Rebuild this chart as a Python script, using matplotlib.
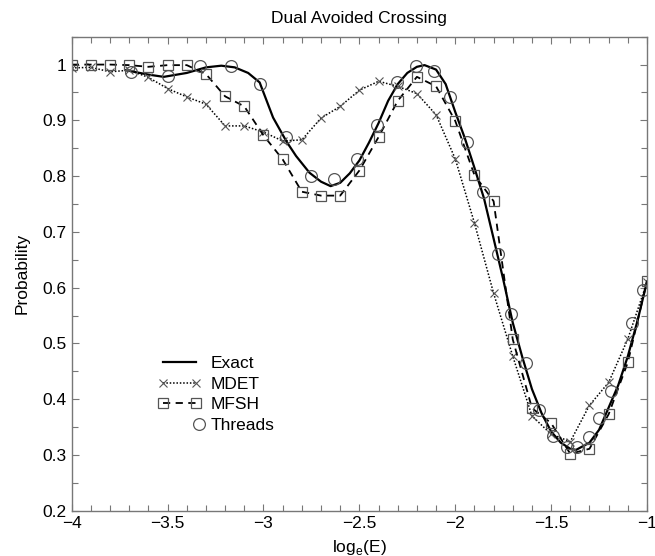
#!/usr/bin/env python3

import numpy as np
import matplotlib
matplotlib.use('Agg')
import matplotlib.pyplot as plt
from matplotlib.legend_handler import HandlerLine2D
from matplotlib.ticker import MultipleLocator

plt.rcParams['font.family'] = ['Liberation Sans', 'DejaVu Sans']
plt.rcParams['mathtext.fontset'] = 'custom'
plt.rcParams['mathtext.rm'] = 'Liberation Sans'

# energy grid used by the MDET and MFSH runs
grid_x = [-4.0, -3.9, -3.8, -3.7, -3.6, -3.5, -3.4, -3.3, -3.2, -3.1,
          -3.0, -2.9, -2.8, -2.7, -2.6, -2.5, -2.4, -2.3, -2.2, -2.1,
          -2.0, -1.9, -1.8, -1.7, -1.6, -1.5, -1.4, -1.3, -1.2, -1.1, -1.0]

mdet_y = [0.994, 0.995, 0.987, 0.990, 0.977, 0.957, 0.942, 0.929, 0.890, 0.890,
          0.879, 0.863, 0.865, 0.904, 0.925, 0.954, 0.970, 0.961, 0.948, 0.910,
          0.831, 0.716, 0.590, 0.477, 0.370, 0.337, 0.324, 0.389, 0.430, 0.508, 0.610]

mfsh_y = [1.000, 1.000, 1.000, 0.999, 0.996, 0.999, 0.999, 0.983, 0.943, 0.925,
          0.873, 0.830, 0.772, 0.765, 0.765, 0.810, 0.870, 0.935, 0.978, 0.961,
          0.899, 0.802, 0.755, 0.507, 0.384, 0.357, 0.302, 0.311, 0.373, 0.466, 0.612]

# exact result
exact_x = [-3.72, -3.60, -3.52, -3.40, -3.30, -3.22, -3.15, -3.08, -3.02, -2.95,
           -2.88, -2.83, -2.76, -2.70, -2.65, -2.60, -2.55, -2.50, -2.45, -2.40,
           -2.35, -2.30, -2.25, -2.20, -2.16, -2.10, -2.05, -2.00, -1.95, -1.90,
           -1.85, -1.80, -1.75, -1.70, -1.65, -1.60, -1.55, -1.50, -1.45, -1.40,
           -1.37, -1.30, -1.25, -1.20, -1.15, -1.10, -1.05, -1.00]
exact_y = [0.990, 0.982, 0.978, 0.985, 0.995, 0.998, 0.995, 0.985, 0.968, 0.905,
           0.862, 0.836, 0.806, 0.790, 0.782, 0.788, 0.805, 0.828, 0.860, 0.895,
           0.935, 0.965, 0.985, 0.996, 0.999, 0.991, 0.965, 0.915, 0.868, 0.815,
           0.760, 0.688, 0.615, 0.537, 0.475, 0.418, 0.375, 0.342, 0.322, 0.311,
           0.309, 0.322, 0.345, 0.385, 0.425, 0.477, 0.540, 0.611]

threads_x = [-3.69, -3.50, -3.33, -3.17, -3.02, -2.88, -2.75, -2.63, -2.514, -2.41,
             -2.305, -2.205, -2.111, -2.028, -1.94, -1.857, -1.776, -1.711, -1.631,
             -1.565, -1.492, -1.419, -1.367, -1.304, -1.25, -1.19, -1.079, -1.023]
threads_y = [0.986, 0.980, 0.997, 0.997, 0.966, 0.871, 0.801, 0.795, 0.831, 0.891,
             0.968, 0.997, 0.988, 0.941, 0.862, 0.771, 0.661, 0.552, 0.465,
             0.381, 0.334, 0.315, 0.315, 0.333, 0.367, 0.414, 0.537, 0.596]


class RightMarkerHandler(HandlerLine2D):
    # single marker at the right end of the legend sample, gnuplot style
    def get_xdata(self, legend, xdescent, ydescent, width, height, fontsize):
        x_end = [-xdescent + width - 0.15 * fontsize]
        return x_end, x_end


def plot_dual_crossing():
    fig = plt.figure(figsize=(6.55, 5.56), dpi=100)
    ax = fig.add_axes([0.1095, 0.0815, 0.8783, 0.8525])

    grey = '#555555'
    ax.plot(exact_x, exact_y, color='black', linewidth=1.6, label='Exact')
    ax.plot(grid_x, mdet_y, color='black', linestyle=(0, (1, 1.2)), linewidth=1.1,
            marker='x', markersize=6, markeredgecolor=grey, markeredgewidth=0.8,
            label='MDET')
    ax.plot(grid_x, mfsh_y, color='black', linestyle=(0, (4, 3)), linewidth=1.3,
            marker='s', markersize=6.5, markerfacecolor='none', markeredgecolor=grey,
            markeredgewidth=0.9, label='MFSH')
    threads, = ax.plot(threads_x, threads_y, linestyle='none', marker='o',
                       markersize=8.5, markerfacecolor='none', markeredgecolor=grey,
                       markeredgewidth=0.9, label='Threads')

    ax.set_xlim(-4, -1)
    ax.set_ylim(0.2, 1.05)
    ax.xaxis.set_minor_locator(MultipleLocator(0.1))
    ax.yaxis.set_minor_locator(MultipleLocator(0.05))
    ax.set_yticks([0.2, 0.3, 0.4, 0.5, 0.6, 0.7, 0.8, 0.9, 1.0])
    ax.set_yticklabels(['0.2', '0.3', '0.4', '0.5', '0.6', '0.7', '0.8', '0.9', '1'])
    ax.set_xticks([-4, -3.5, -3, -2.5, -2, -1.5, -1])
    ax.set_xticklabels(['\u22124', '\u22123.5', '\u22123', '\u22122.5', '\u22122',
                        '\u22121.5', '\u22121'])
    ax.tick_params(which='both', direction='in', top=True, right=True,
                   color='#777777', labelsize=12.5, pad=4)
    ax.tick_params(which='major', length=5, width=0.8)
    ax.tick_params(which='minor', length=4, width=0.8)
    for side in ax.spines.values():
        side.set_color('#777777')
        side.set_linewidth(1.0)

    ax.set_title('Dual Avoided Crossing', fontsize=12.5, pad=10)
    ax.set_xlabel(r'log$_\mathregular{e}$(E)', fontsize=12.5, labelpad=5)
    ax.set_ylabel('Probability', fontsize=12.5, labelpad=9)

    ax.legend(loc='upper left', bbox_to_anchor=(0.135, 0.345), frameon=False,
              fontsize=12.5, handlelength=2.5, handletextpad=0.5, labelspacing=0.32,
              numpoints=2, borderpad=0,
              handler_map={threads: RightMarkerHandler()})

    fig.savefig('out.png', dpi=100)


if __name__ == '__main__':
    plot_dual_crossing()
